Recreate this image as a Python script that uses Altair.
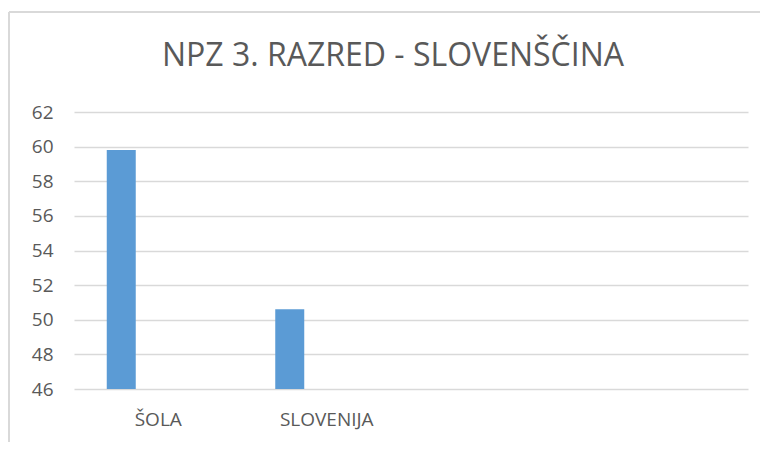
import altair as alt
import pandas as pd

title_text = "NPZ 3. RAZRED - SLOVENŠČINA"
categories = ["ŠOLA", "SLOVENIJA"]
values = [59.8, 50.6]
empty_slots = ["_3", "_4"]
y_ticks = [46, 48, 50, 52, 54, 56, 58, 60, 62]

df = pd.DataFrame({"kategorija": categories, "vrednost": values})

FONT = "Open Sans"
GRAY = "#595959"
GRID = "#d9d9d9"
W, H = 674, 277

bars = alt.Chart(df).mark_bar(color="#5b9bd5", width=29, xOffset=-37).encode(
    x=alt.X(
        "kategorija:N",
        sort=None,
        scale=alt.Scale(domain=categories + empty_slots, paddingInner=0, paddingOuter=0),
        axis=alt.Axis(
            title=None,
            labelAngle=0,
            ticks=False,
            domain=False,
            labelColor=GRAY,
            labelFont=FONT,
            labelFontSize=19,
            labelPadding=21,
            labelExpr="indexof(['_3','_4'], datum.label) >= 0 ? '' : datum.label",
        ),
    ),
    y=alt.Y(
        "vrednost:Q",
        scale=alt.Scale(domain=[46, 62], zero=False, nice=False),
        axis=alt.Axis(
            title=None,
            values=y_ticks,
            ticks=False,
            domain=False,
            grid=True,
            gridColor=GRID,
            gridWidth=1.5,
            labelColor=GRAY,
            labelFont=FONT,
            labelFontSize=19,
            labelPadding=21,
        ),
    ),
    y2=alt.datum(46),
)

frame_left = alt.Chart(df).mark_rule(color=GRID, strokeWidth=2).encode(
    x=alt.value(-65), y=alt.value(-100), y2=alt.value(345)
)
frame_top = alt.Chart(df).mark_rule(color=GRID, strokeWidth=2).encode(
    x=alt.value(-65), x2=alt.value(700), y=alt.value(-100)
)

chart = (
    alt.layer(bars, frame_left, frame_top)
    .properties(
        width=W,
        height=H,
        autosize=alt.AutoSizeParams(type="none"),
        padding={"left": 66, "top": 104, "right": 12, "bottom": 53},
        title=alt.TitleParams(
            title_text,
            font=FONT,
            fontSize=32,
            fontWeight="normal",
            color=GRAY,
            anchor="middle",
            baseline="alphabetic",
            offset=-87,
            dx=-18,
        ),
    )
    .configure(background="white", view={"strokeWidth": 0, "stroke": "transparent"})
)

chart.save("out.html", embed_options={"renderer": "svg", "actions": False})
